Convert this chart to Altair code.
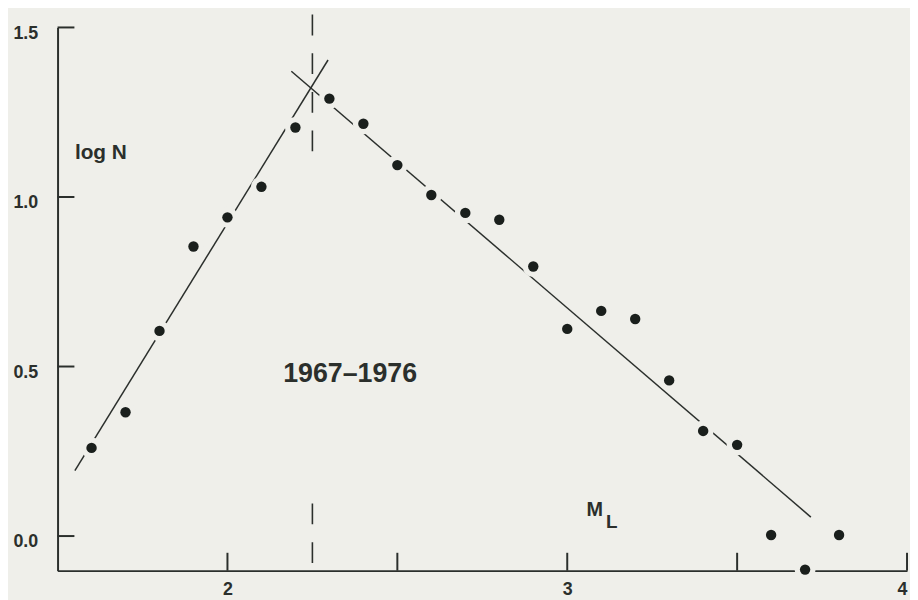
import altair as alt
import pandas as pd

# ---- data ----
ml = [1.6, 1.7, 1.8, 1.9, 2.0, 2.1, 2.2, 2.3, 2.4, 2.5, 2.6, 2.7,
      2.8, 2.9, 3.0, 3.1, 3.2, 3.3, 3.4, 3.5, 3.6, 3.7, 3.8]
logn = [0.26, 0.365, 0.605, 0.854, 0.94, 1.03, 1.205, 1.29, 1.216, 1.094,
        1.006, 0.953, 0.933, 0.795, 0.611, 0.664, 0.64, 0.459, 0.31, 0.269,
        0.003, -0.099, 0.003]

left_fit_x = [1.551, 2.296]
left_fit_y = [0.193, 1.404]
right_fit_x = [2.188, 3.717]
right_fit_y = [1.371, 0.056]

split_x = 2.25
split_seg_y1 = [1.538, 0.096]
split_seg_y2 = [1.096, -0.102]

x_ticks = [2, 2.5, 3, 3.5, 4]
x_labels = [2, 3, 4]
y_ticks = [0.0, 0.5, 1.0, 1.5]

BG = "#efefea"
INK = "#2b2f2c"
DOT = "#1a1f1c"
FONT = "Liberation Sans"

W, H = 857, 548

pts = pd.DataFrame({"ml": ml, "logn": logn})
fits = pd.DataFrame({
    "ml": left_fit_x + right_fit_x,
    "logn": left_fit_y + right_fit_y,
    "seg": ["left", "left", "right", "right"],
})
split = pd.DataFrame({"ml": [split_x, split_x], "y1": split_seg_y1, "y2": split_seg_y2})
xt = pd.DataFrame({"v": x_ticks})
yt = pd.DataFrame({"v": y_ticks})
one = pd.DataFrame({"k": [0]})

xscale = alt.Scale(domain=[1.5, 4], nice=False, zero=False)
yscale = alt.Scale(domain=[-0.102, 1.5], nice=False, zero=False)

xaxis = alt.Axis(values=x_labels, format="d", ticks=False, grid=False, title=None,
                 labelPadding=10, labelFontSize=18, labelFontWeight="bold",
                 labelFont=FONT, labelColor=INK, labelFlush=True,
                 domainColor=INK, domainWidth=2)
yaxis = alt.Axis(values=y_ticks, format=".1f", ticks=False, grid=False, title=None,
                 labelPadding=20, labelOffset=6, labelFontSize=18,
                 labelFontWeight="bold", labelFont=FONT, labelColor=INK,
                 domainColor=INK, domainWidth=2)

X = alt.X("ml:Q", scale=xscale, axis=xaxis)
Y = alt.Y("logn:Q", scale=yscale, axis=yaxis)

fit_lines = alt.Chart(fits).mark_line(color=INK, strokeWidth=1.5).encode(
    x=X, y=Y, detail="seg:N")

split_rule = alt.Chart(split).mark_rule(color=INK, strokeWidth=1.6,
                                        strokeDash=[21, 18]).encode(
    x=alt.X("ml:Q", scale=xscale), y=alt.Y("y1:Q", scale=yscale), y2="y2:Q")

x_tick_marks = alt.Chart(xt).mark_rule(color=INK, strokeWidth=2).encode(
    x=alt.X("v:Q", scale=xscale), y=alt.value(H), y2=alt.value(H - 18))
y_tick_marks = alt.Chart(yt).mark_rule(color=INK, strokeWidth=2).encode(
    y=alt.Y("v:Q", scale=yscale), x=alt.value(0), x2=alt.value(17))

halo = alt.Chart(pts).mark_point(filled=True, color=BG, opacity=1, size=450).encode(
    x=X, y=Y)
dots = alt.Chart(pts).mark_point(filled=True, color=DOT, opacity=1, size=110).encode(
    x=X, y=Y)


def label(text, x, y, size, align="left"):
    return alt.Chart(one).mark_text(
        text=text, align=align, baseline="alphabetic", font=FONT,
        fontSize=size, fontWeight="bold", color=INK,
    ).encode(x=alt.datum(x), y=alt.datum(y))


txt_logn = label("log N", 1.551, 1.111, 21)
txt_years = label("1967–1976", 2.361, 0.453, 27, align="center")
txt_m = label("M", 3.057, 0.058, 20)
txt_l = label("L", 3.114, 0.023, 19)

chart = alt.layer(
    fit_lines, split_rule, x_tick_marks, y_tick_marks, halo, dots,
    txt_logn, txt_years, txt_m, txt_l,
).properties(
    width=W, height=H, background=BG,
    autosize=alt.AutoSizeParams(type="none"),
    padding={"left": 50, "top": 17, "right": 3, "bottom": 27},
).configure_view(stroke=None)

chart.save("out.html", embed_options={"renderer": "svg", "actions": False})
